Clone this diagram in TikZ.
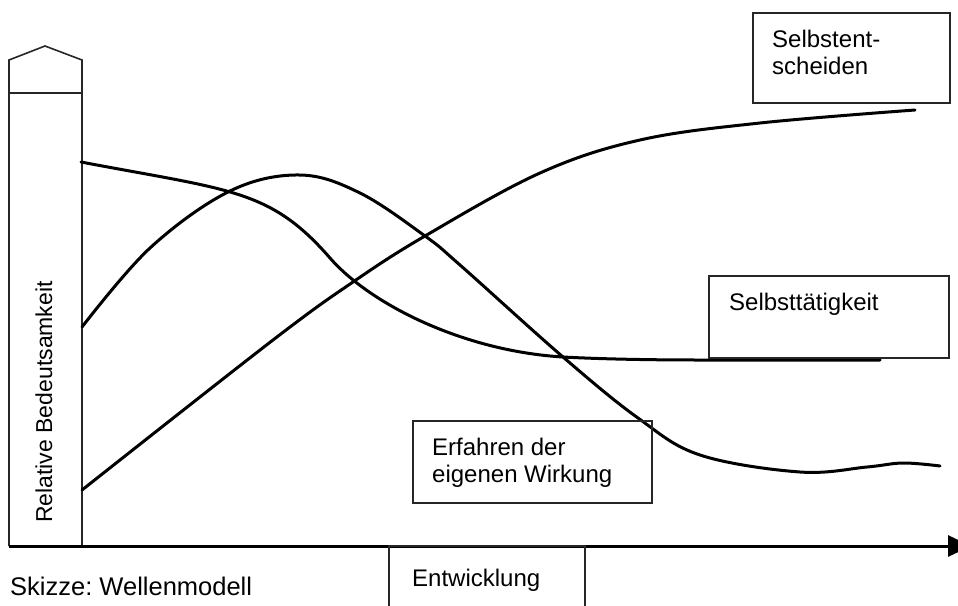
\documentclass[tikz,border=0pt]{standalone}
\usepackage{fontspec}
\setmainfont{Liberation Sans}
\usetikzlibrary{arrows.meta}
\begin{document}
\frenchspacing
\begin{tikzpicture}[x=1pt,y=-1pt,
  curve/.style={line width=3pt, line join=round, line cap=round},
  frame/.style={draw=black!85, line width=1.6pt},
  boxnode/.style={frame, anchor=north west, inner sep=0pt},
  label/.style={inner sep=0pt, anchor=base west, font=\fontsize{24}{27}\selectfont},
  axis/.style={line width=3pt}]
\clip (0,0) rectangle (958,605);
\fill[white] (0,0) rectangle (958,605);

% pillar with gable roof
\draw[frame, line join=miter] (9,546) -- (9,60) -- (45,46) -- (82,60) -- (82,546);
\draw[frame] (9,93) -- (82,93);
\node[label, rotate=90, font=\fontsize{23}{26}\selectfont] (ylabel) at (52,523) {Relative Bedeutsamkeit};

% time axis
\coordinate (ax0) at (9,546);
\coordinate (ax1) at (971,546);
\draw[axis, -{Triangle[length=23pt,width=21pt]}] (ax0) -- (ax1);

% label box under the axis
\draw[frame] (389,620) -- (389,546) -- (585,546) -- (585,620);
\node[label] (dev) at (412,586) {Entwicklung};

% the three waves
\draw[curve] plot[smooth, tension=0.6] coordinates {
  (82,490) (273,340) (353,282) (425,236) (540,173) (640,140) (760,123) (915,110)};
\draw[curve] plot[smooth, tension=0.6] coordinates {
  (82,327) (150,248) (230,191) (300,175) (360,193) (425,236) (460,265)
  (563,357) (638,418) (700,455) (800,472) (867,467) (903,463) (940,466)};
\draw[curve] (81,162) .. controls (231,190.5) and (270,189) .. (330,258)
  .. controls (370,304) and (463,351) .. (563,357)
  .. controls (600,359) and (650,360) .. (700,360) -- (880,360);

% curve labels
\node[boxnode, minimum width=197pt, minimum height=90pt] (boxS) at (752,12) {};
\node[label] (s1) at (772,47) {Selbstent-};
\node[label] (s2) at (772,74) {scheiden};

\node[boxnode, minimum width=240pt, minimum height=82pt] (boxT) at (708,275) {};
\node[label] (t1) at (729,310) {Selbsttätigkeit};

\node[boxnode, minimum width=239pt, minimum height=82pt] (boxE) at (412,420) {};
\node[label] (e1) at (432,455) {Erfahren der};
\node[label] (e2) at (432,482) {eigenen Wirkung};

% caption
\node[label, font=\fontsize{25.5}{28}\selectfont] (cap) at (10,595) {Skizze: Wellenmodell};
\end{tikzpicture}
\end{document}
